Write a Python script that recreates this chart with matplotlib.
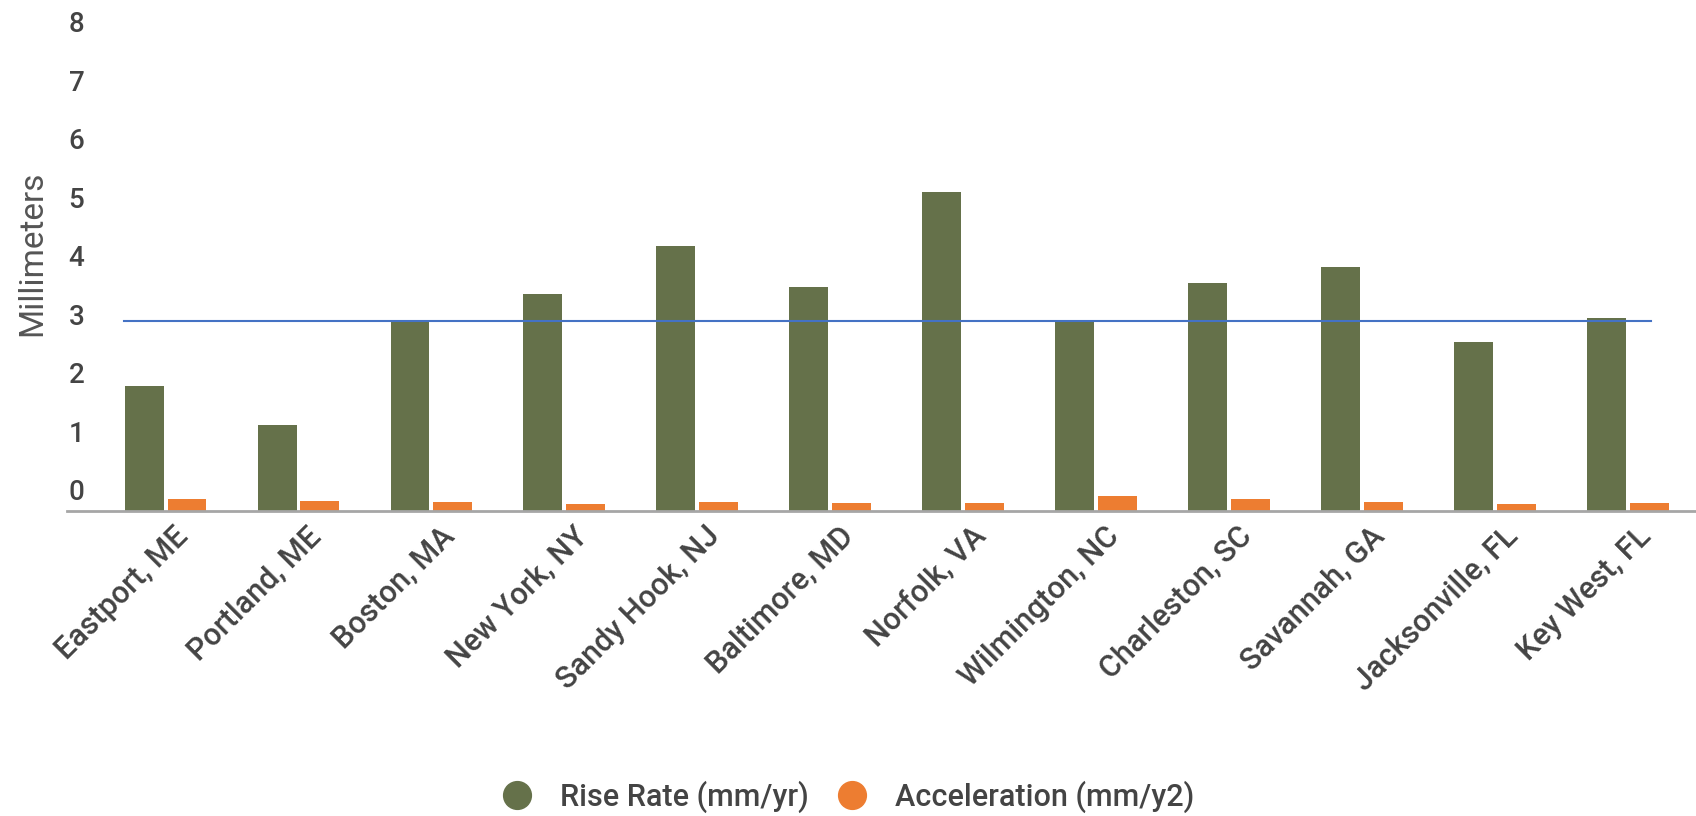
import matplotlib
matplotlib.use("Agg")
import matplotlib.pyplot as plt
import matplotlib.transforms as mtransforms
from matplotlib.lines import Line2D
import numpy as np

plt.rcParams['font.family'] = ['Roboto', 'DejaVu Sans']
plt.rcParams['font.weight'] = 'medium'

# Tide-gauge stations along the U.S. East Coast
stations = ["Eastport, ME", "Portland, ME", "Boston, MA", "New York, NY",
            "Sandy Hook, NJ", "Baltimore, MD", "Norfolk, VA", "Wilmington, NC",
            "Charleston, SC", "Savannah, GA", "Jacksonville, FL", "Key West, FL"]
rise_rate = [2.13, 1.47, 3.26, 3.71, 4.52, 3.82, 5.45, 3.26, 3.90, 4.16, 2.89, 3.30]
acceleration = [0.20, 0.17, 0.16, 0.12, 0.15, 0.14, 0.14, 0.25, 0.20, 0.16, 0.12, 0.14]
global_average = 3.24
y_ticks = [0, 1, 2, 3, 4, 5, 6, 7, 8]
series_names = ["Rise Rate (mm/yr)", "Acceleration (mm/y2)"]

GREEN = "#65714A"
ORANGE = "#ED7D31"
BLUE = "#4472C4"
TEXT = "#444444"

W, H = 1696, 816
fig = plt.figure(figsize=(W / 100, H / 100), dpi=100)
ax = fig.add_axes([67 / W, (H - 511) / H, (W - 67) / W, 468.4 / H])

x = np.arange(len(stations))
width = 0.293
sep = 0.323
ax.bar(x - sep / 2, rise_rate, width, color=GREEN, zorder=2)
ax.bar(x + sep / 2, acceleration, width, color=ORANGE, zorder=2)

# Global average reference line
ax.plot([-0.31, 11.17], [global_average, global_average], color=BLUE, lw=1.5, zorder=3)

ax.set_xlim(-0.741, 11.51)
ax.set_ylim(0, 8)

for side in ("top", "right", "left"):
    ax.spines[side].set_visible(False)
ax.spines["bottom"].set_color("#A6A6A6")
ax.spines["bottom"].set_linewidth(2)

ax.set_yticks(y_ticks)
ax.set_yticklabels([str(v) for v in y_ticks])
ax.tick_params(axis="y", length=0, pad=-12.5, labelsize=20, labelcolor=TEXT)
yshift = mtransforms.ScaledTranslation(0, 21 / 100, fig.dpi_scale_trans)
for lab in ax.get_yticklabels():
    lab.set_transform(lab.get_transform() + yshift)
    lab.set_horizontalalignment("right")

ax.set_xticks(x)
ax.set_xticklabels(stations, rotation=45, ha="right", va="center",
                   rotation_mode="anchor", fontsize=22, color=TEXT)
ax.tick_params(axis="x", length=0, pad=12)
xshift = mtransforms.ScaledTranslation(18 / 100, -4 / 100, fig.dpi_scale_trans)
for lab in ax.get_xticklabels():
    lab.set_transform(lab.get_transform() + xshift)

fig.text(32 / W, 1 - 253 / H, "Millimeters", rotation=90, ha="center", va="center",
         fontsize=24, color="#555555", fontweight="normal")

handles = [Line2D([], [], marker="o", ls="", color=c, markersize=20) for c in (GREEN, ORANGE)]
fig.legend(handles, series_names, loc="center", bbox_to_anchor=(0.5, 1 - 797 / H),
           ncol=2, frameon=False, fontsize=22, labelcolor=TEXT,
           handletextpad=0.9, columnspacing=0.9, handlelength=1.0)

fig.savefig("out.png", dpi=100, facecolor="white")
